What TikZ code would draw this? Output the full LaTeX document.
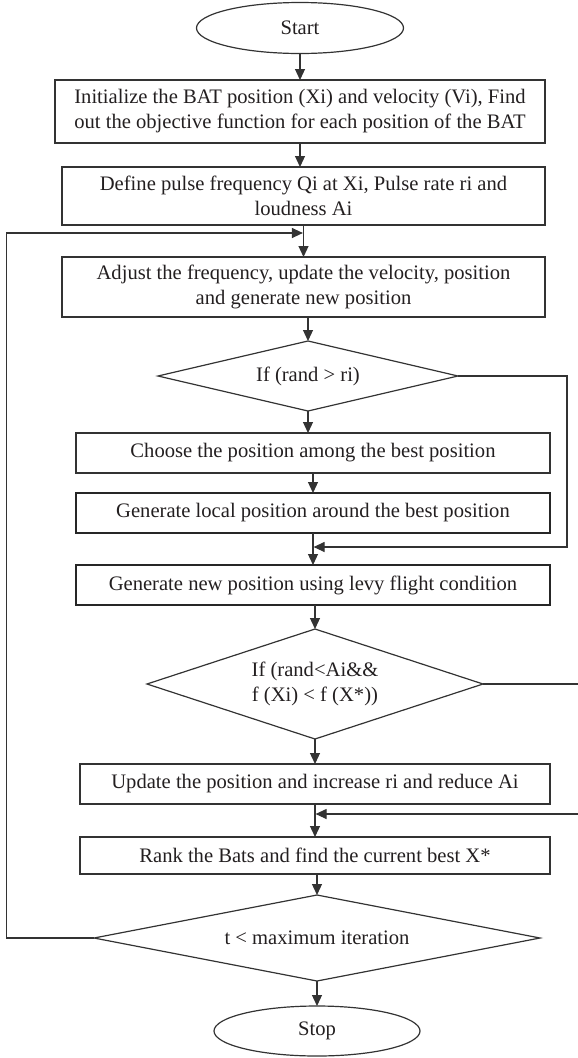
\documentclass[tikz,border=0pt]{standalone}
\usepackage{fontspec}
\setmainfont{Liberation Serif}
\usetikzlibrary{shapes.geometric,arrows.meta}
\definecolor{lnc}{HTML}{333333}
\definecolor{txc}{HTML}{231F20}
\begin{document}
\begin{tikzpicture}[x=1pt,y=-1pt,
  every node/.style={font=\fontsize{20.6}{25}\selectfont, text=txc},
  proc/.style={draw=lnc, line width=1.2pt, rectangle, align=center, inner sep=0pt, outer sep=0pt},
  procb/.style={proc, line width=2pt, draw=black!85},
  term/.style={draw=lnc, line width=1.2pt, ellipse, inner sep=0pt, outer sep=0pt},
  dec/.style={draw=lnc, line width=1.2pt, diamond, align=center, inner sep=0pt, outer sep=0pt},
  arr/.style={draw=lnc, line width=1.2pt, -{Triangle[length=11pt,width=10pt]}}]
\useasboundingbox (0,0) rectangle (578,1058);
\clip (0,0) rectangle (578,1058);

\node[term, minimum width=207pt, minimum height=51pt] (start) at (300,28) {Start};
\node[proc, minimum width=490pt, minimum height=63pt] (box1) at (300,111.5)
  {Initialize the BAT position (Xi) and velocity (Vi), Find\\out the objective function for each position of the BAT};
\node[proc, minimum width=483pt, minimum height=58pt] (box2) at (303.5,196)
  {Define pulse frequency Qi at Xi, Pulse rate ri and\\loudness Ai};
\node[proc, minimum width=483pt, minimum height=60pt] (box3) at (303.5,287)
  {Adjust the frequency, update the velocity, position\\and generate new position};
\node[dec, aspect=4, minimum width=300pt, minimum height=70pt] (d1) at (308,376) {If (rand > ri)};
\node[proc, minimum width=474pt, minimum height=40pt] (choose) at (313,453)
  {Choose the position among the best position};
\node[procb, minimum width=474pt, minimum height=40pt] (local) at (313,513)
  {Generate local position around the best position};
\node[procb, minimum width=474pt, minimum height=40pt] (new) at (313,585)
  {Generate new position using levy flight condition};
\node[dec, aspect=3, minimum width=336pt, minimum height=110pt] (d2) at (315,684)
  {If (rand<Ai\&\&\\f (Xi) < f (X*))};
\node[proc, minimum width=470pt, minimum height=40pt] (update) at (315,784)
  {Update the position and increase ri and reduce Ai};
\node[proc, minimum width=470pt, minimum height=37pt] (rank) at (315,855.5)
  {Rank the Bats and find the current best X*};
\node[dec, aspect=5, minimum width=446pt, minimum height=86pt] (d3) at (317,938)
  {t < maximum iteration};
\node[term, minimum width=206pt, minimum height=50pt] (stop) at (317,1031) {Stop};

\coordinate (j1) at (302.9,233);
\coordinate (j2) at (313.6,547);
\coordinate (j3) at (315.6,814);
\coordinate (la) at (6.6,938);
\coordinate (lb) at (6.6,233);
\coordinate (ra) at (567,376);
\coordinate (rb) at (567,547);
\coordinate (sa) at (592,684);
\coordinate (sb) at (592,814);

\draw[arr] (start.south) -- (start.south |- box1.north);
\draw[arr] (box1.south) -- (box1.south |- box2.north);
\draw[arr] (box2.south) -- (box2.south |- box3.north);
\draw[arr] (d1.north |- box3.south) -- (d1.north);
\draw[arr] (d1.south) -- (d1.south |- choose.north);
\draw[arr] (choose.south) -- (choose.south |- local.north);
\draw[arr] (local.south) -- (local.south |- new.north);
\draw[arr] (d2.north |- new.south) -- (d2.north);
\draw[arr] (d2.south) -- (d2.south |- update.north);
\draw[arr] (update.south) -- (update.south |- rank.north);
\draw[arr] (d3.north |- rank.south) -- (d3.north);
\draw[arr] (d3.south) -- (d3.south |- stop.north);

\draw[arr] (d1.east) -- (ra) -- (rb) -- (j2);
\draw[arr] (d2.east) -- (sa) -- (sb) -- (j3);
\draw[arr] (d3.west) -- (la) -- (lb) -- (j1);
\end{tikzpicture}
\end{document}
